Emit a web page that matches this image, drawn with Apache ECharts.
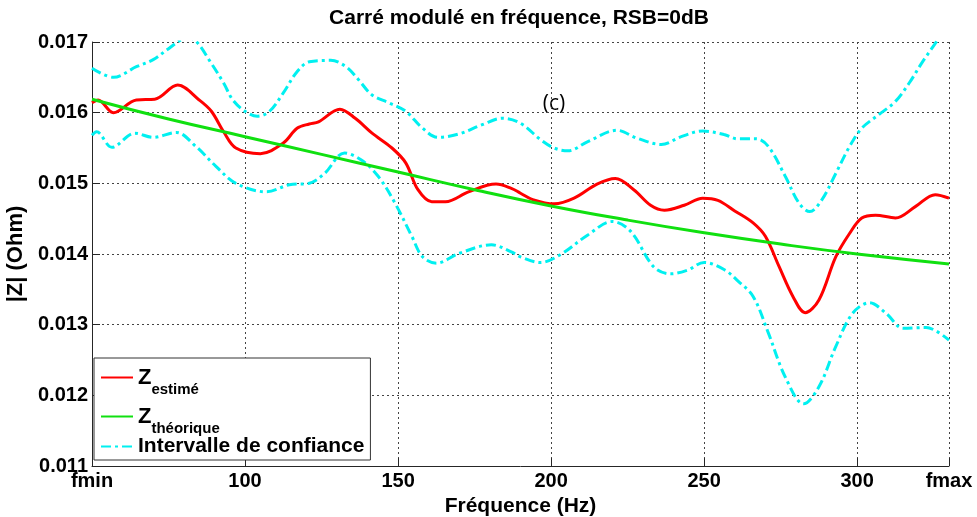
<!DOCTYPE html>
<html>
<head>
<meta charset="utf-8">
<script src="https://cdn.jsdelivr.net/npm/echarts@6/dist/echarts.min.js"></script>
<style>html,body{margin:0;padding:0;background:#fff;}#c{width:977px;height:517px;}</style>
</head>
<body>
<div id="c"></div>
<script>
// ---- data ----
const titleText = 'Carré modulé en fréquence, RSB=0dB';
const xName = 'Fréquence (Hz)';
const yName = '|Z| (Ohm)';
const panelTag = '(c)';
const xMin = 50, xMax = 330, xStep = 50;
const yMin = 0.011, yMax = 0.017, yStep = 0.001;
const xEdgeLabels = { 50: 'fmin', 330: 'fmax' };

const estX = [50, 52, 57, 64.5, 70.5, 78, 85, 89, 93, 97, 105, 112.5, 117, 121, 124, 131, 136, 141.5, 148, 152.5, 156.5, 161, 165.5, 173, 182, 187, 190, 194, 201, 207.5, 215, 221, 227, 232.5, 237, 243.5, 249.5, 254.5, 260, 266, 270, 274.5, 279, 283, 287.5, 293, 297.5, 301.5, 306, 312.5, 319, 325.5, 330];
const estY = [0.01614, 0.01618, 0.01600, 0.01618, 0.01619, 0.01639, 0.01618, 0.01602, 0.01573, 0.01550, 0.01542, 0.01557, 0.01578, 0.01584, 0.01587, 0.01605, 0.01592, 0.01571, 0.01550, 0.01529, 0.01491, 0.01474, 0.01474, 0.01488, 0.01499, 0.01493, 0.01486, 0.01477, 0.01471, 0.01479, 0.01499, 0.01507, 0.01491, 0.01469, 0.01462, 0.01469, 0.01479, 0.01476, 0.01461, 0.01444, 0.01425, 0.01382, 0.01340, 0.01317, 0.01335, 0.01396, 0.01429, 0.01451, 0.01455, 0.01451, 0.01467, 0.01484, 0.01479];

const theoX = [50, 75, 100, 125, 150, 175, 200, 225, 250, 275, 300, 330];
const theoY = [0.01619, 0.01591, 0.01566, 0.01541, 0.01516, 0.01491, 0.01468, 0.01448, 0.01430, 0.01414, 0.01400, 0.01386];

const upX = [50, 57, 64.5, 70, 74.5, 78, 81, 84, 88.5, 93, 96, 100, 104, 108, 112.5, 117, 121, 128, 133, 137, 141.5, 147, 152.5, 158, 163, 170, 177.5, 184, 190, 196.5, 201, 205.5, 212, 221.5, 228, 236, 242.5, 249.5, 256.5, 261, 267, 271, 276.5, 281, 284.5, 288.5, 293, 297.5, 301.5, 307, 312.5, 317, 321.5, 326, 330];
const upY = [0.01663, 0.01650, 0.01665, 0.01675, 0.01689, 0.01700, 0.01707, 0.01701, 0.01673, 0.01642, 0.01618, 0.01602, 0.01595, 0.01602, 0.01628, 0.01658, 0.01672, 0.01674, 0.01665, 0.01647, 0.01625, 0.01614, 0.01602, 0.01578, 0.01565, 0.01570, 0.01583, 0.01592, 0.01585, 0.01562, 0.01550, 0.01546, 0.01559, 0.01575, 0.01564, 0.01555, 0.01566, 0.01574, 0.01569, 0.01563, 0.01563, 0.01552, 0.01510, 0.01472, 0.01460, 0.01477, 0.01514, 0.01552, 0.01578, 0.01597, 0.01616, 0.01642, 0.01673, 0.01701, 0.01728];

const lowX = [50, 51.5, 56.5, 64, 70, 77.5, 84, 90.5, 97, 107, 114.5, 121, 126, 132.5, 138, 143.5, 149, 154.5, 158, 162.5, 170, 180.5, 187, 190, 196.5, 203, 212, 220, 226, 233.5, 239, 244.5, 250, 256.5, 261, 266, 271, 276.5, 282.5, 287.5, 293, 298.5, 304, 309.5, 315, 322.5, 330];
const lowY = [0.01568, 0.01573, 0.01551, 0.01571, 0.01565, 0.01572, 0.01552, 0.01524, 0.01500, 0.01488, 0.01498, 0.01500, 0.01514, 0.01543, 0.01533, 0.01510, 0.01472, 0.01425, 0.01396, 0.01387, 0.01401, 0.01413, 0.01403, 0.01396, 0.01388, 0.01399, 0.01427, 0.01446, 0.01432, 0.01382, 0.01372, 0.01377, 0.01388, 0.01378, 0.01362, 0.01340, 0.01288, 0.01226, 0.01188, 0.01212, 0.01269, 0.01316, 0.01331, 0.01316, 0.01295, 0.01296, 0.01278];

const nameEst = 'Z_estimé', nameTheo = 'Z_théorique', nameCI = 'Intervalle de confiance';

function pairs(xs, ys) { return xs.map((x, i) => [x, ys[i]]); }

const FONT = '"Liberation Sans", Arial, sans-serif';
const chart = echarts.init(document.getElementById('c'), null, { renderer: 'canvas' });

const dashDot = [10, 4, 3, 4];

chart.setOption({
  animation: false,
  backgroundColor: '#fff',
  textStyle: { fontFamily: FONT },
  grid: { left: 92, right: 28, top: 42, bottom: 51, containLabel: false, outerBoundsMode: 'none' },
  graphic: [
    { type: 'text', x: 519, y: 18, style: { text: titleText, font: 'bold 21px ' + FONT, fill: '#000', textAlign: 'center', textVerticalAlign: 'middle' } },
    { type: 'text', x: 554, y: 104, style: { text: panelTag, font: '21px "Open Sans", "Noto Sans", sans-serif', fill: '#000', textAlign: 'center', textVerticalAlign: 'middle' } }
  ],
  legend: {
    orient: 'vertical',
    left: 94, top: 358,
    padding: [0, 6, 3, 6],
    itemGap: 0,
    itemWidth: 32, itemHeight: 14,
    backgroundColor: '#fff',
    borderColor: '#333', borderWidth: 1,
    itemStyle: { opacity: 0 },
    data: [nameEst, nameTheo, nameCI],
    formatter: function (n) {
      if (n === nameEst) return '{z|Z}{s|estimé}';
      if (n === nameTheo) return '{z|Z}{s|théorique}';
      return '{t|' + n + '}';
    },
    textStyle: {
      fontFamily: FONT, color: '#000',
      rich: {
        z: { fontFamily: FONT, fontSize: 22, fontWeight: 'bold', lineHeight: 22, verticalAlign: 'middle', color: '#000' },
        s: { fontFamily: FONT, fontSize: 15, fontWeight: 'bold', lineHeight: 14, padding: [24, 0, 0, 0], verticalAlign: 'middle', color: '#000' },
        t: { fontFamily: FONT, fontSize: 21, fontWeight: 'bold', lineHeight: 24, color: '#000' }
      }
    }
  },
  xAxis: {
    type: 'value', min: xMin, max: xMax, interval: xStep,
    name: xName, nameLocation: 'middle', nameGap: 27,
    nameTextStyle: { fontFamily: FONT, fontSize: 21, fontWeight: 'bold', color: '#000' },
    axisLine: { show: true, onZero: false, lineStyle: { color: '#262626', width: 1 } },
    axisTick: { show: true, inside: true, length: 8, lineStyle: { color: '#262626' } },
    axisLabel: { margin: 5, fontFamily: FONT, fontSize: 20, fontWeight: 'bold', color: '#000',
      showMinLabel: true, showMaxLabel: true,
      formatter: v => (xEdgeLabels[v] !== undefined ? xEdgeLabels[v] : String(v)) },
    splitLine: { show: true, lineStyle: { color: '#444', type: [2, 3], width: 1 } }
  },
  yAxis: {
    type: 'value', min: yMin, max: yMax, interval: yStep,
    name: yName, nameLocation: 'middle', nameGap: 60, nameRotate: 90,
    nameTextStyle: { fontFamily: FONT, fontSize: 22, fontWeight: 'bold', color: '#000' },
    axisLine: { show: true, onZero: false, lineStyle: { color: '#262626', width: 1 } },
    axisTick: { show: true, inside: true, length: 8, lineStyle: { color: '#262626' } },
    axisLabel: { margin: 4, fontFamily: FONT, fontSize: 20, fontWeight: 'bold', color: '#000',
      showMinLabel: true, showMaxLabel: true,
      formatter: v => v.toFixed(3) },
    splitLine: { show: true, lineStyle: { color: '#444', type: [2, 3], width: 1 } }
  },
  series: [
    { name: nameCI, type: 'line', data: pairs(upX, upY), smooth: 0.35, showSymbol: false, symbol: 'none', clip: true,
      lineStyle: { color: '#00f0f0', width: 3, type: dashDot }, itemStyle: { color: '#00f0f0' }, z: 2 },
    { name: nameCI, type: 'line', data: pairs(lowX, lowY), smooth: 0.35, showSymbol: false, symbol: 'none', clip: true,
      lineStyle: { color: '#00f0f0', width: 3, type: dashDot }, itemStyle: { color: '#00f0f0' }, z: 2 },
    { name: nameEst, type: 'line', data: pairs(estX, estY), smooth: 0.35, showSymbol: false, symbol: 'none', clip: true,
      lineStyle: { color: '#ff0000', width: 3 }, itemStyle: { color: '#ff0000' }, z: 3 },
    { name: nameTheo, type: 'line', data: pairs(theoX, theoY), smooth: 0.5, showSymbol: false, symbol: 'none', clip: true,
      lineStyle: { color: '#10e010', width: 3 }, itemStyle: { color: '#10e010' }, z: 4 }
  ]
});
</script>
</body>
</html>
